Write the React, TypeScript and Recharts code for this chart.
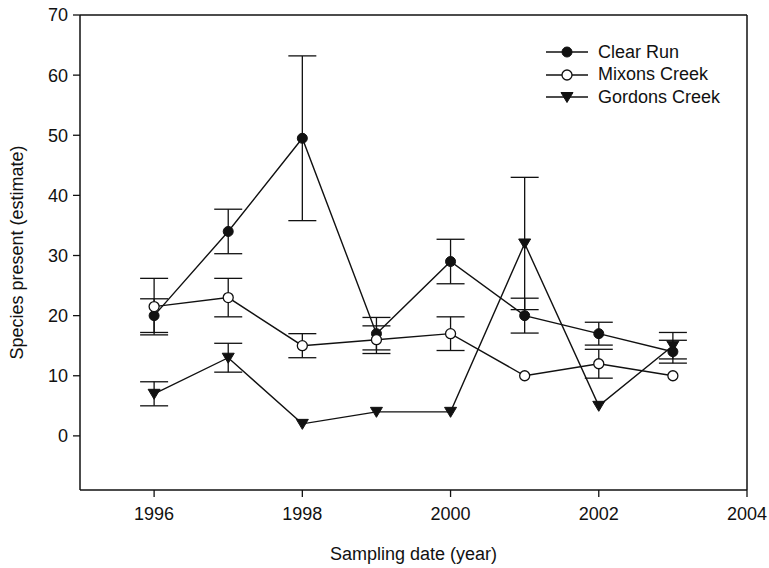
import React from 'react';
import {
    ComposedChart,
    Line,
    XAxis,
    YAxis,
    ErrorBar,
    Label,
} from 'recharts';

// values
const years = [1996, 1997, 1998, 1999, 2000, 2001, 2002, 2003];
const clearRun = [20, 34, 49.5, 17, 29, 20, 17, 14];
const clearRunErr = [2.8, 3.7, 13.7, 2.7, 3.7, 2.9, 1.9, 1.9];
const mixonsCreek = [21.5, 23, 15, 16, 17, 10, 12, 10];
const mixonsCreekErr = [4.7, 3.2, 2, 2.3, 2.8, null, 2.4, null];
const gordonsCreek = [7, 13, 2, 4, 4, 32, 5, 15];
const gordonsCreekErr = [2, 2.4, null, null, null, 11, null, 2.2];

const xTicks = [1996, 1998, 2000, 2002, 2004];
const yTicks = [0, 10, 20, 30, 40, 50, 60, 70];

const data = years.map((year, i) => ({
    year,
    clear: clearRun[i],
    clearErr: clearRunErr[i],
    mixons: mixonsCreek[i],
    mixonsErr: mixonsCreekErr[i],
    gordons: gordonsCreek[i],
    gordonsErr: gordonsCreekErr[i],
}));

const FONT = '"Liberation Sans", Arial, sans-serif';
const INK = '#111';

const triangle = (cx: number, cy: number) =>
    `${cx - 6},${cy - 4.5} ${cx + 6},${cy - 4.5} ${cx},${cy + 5.5}`;

const TriangleDot = (props: any) => {
    const { cx, cy, index } = props;
    if (cx == null || cy == null) return null;
    return <polygon key={`tri-${index}`} points={triangle(cx, cy)} fill={INK} stroke={INK} strokeWidth={1} />;
};

const legendItems = [
    { name: 'Clear Run', marker: 'filled' },
    { name: 'Mixons Creek', marker: 'open' },
    { name: 'Gordons Creek', marker: 'triangle' },
];

// legend box drawn over the chart, top right of the plot
const LegendBox = () => (
    <div style={{ position: 'absolute', top: 41, left: 544, fontFamily: FONT, fontSize: 18, color: INK }}>
        {legendItems.map((item) => (
            <div key={item.name} style={{ display: 'flex', alignItems: 'center', height: 22.5 }}>
                <svg width={54} height={22} style={{ display: 'block' }}>
                    <line x1={2} y1={11} x2={44} y2={11} stroke={INK} strokeWidth={1.4} />
                    {item.marker === 'filled' && <circle cx={23} cy={11} r={5} fill={INK} stroke={INK} />}
                    {item.marker === 'open' && <circle cx={23} cy={11} r={5} fill="#fff" stroke={INK} strokeWidth={1.3} />}
                    {item.marker === 'triangle' && <polygon points={triangle(23, 11)} fill={INK} stroke={INK} />}
                </svg>
                <span>{item.name}</span>
            </div>
        ))}
    </div>
);

const YLabel = (props: any) => {
    const { viewBox } = props;
    const cx = 17;
    const cy = viewBox.y + viewBox.height / 2;
    return (
        <text x={cx} y={cy} transform={`rotate(-90 ${cx} ${cy})`} textAnchor="middle" dominantBaseline="central"
            fontSize={18} fontFamily={FONT} fill={INK}>
            Species present (estimate)
        </text>
    );
};

export default function App() {
    return (
        <div style={{ position: 'absolute', left: 0, top: 0, width: 769, height: 568, background: '#fff' }}>
            <ComposedChart width={769} height={568} data={data} margin={{ top: 14, right: 21, left: 0, bottom: 0 }}>
                <XAxis dataKey="year" type="number" domain={[1995, 2004]} ticks={xTicks} height={78}
                    tick={{ fontSize: 18, fontFamily: FONT, fill: INK }} tickSize={7} tickMargin={10}
                    axisLine={{ stroke: INK, strokeWidth: 1.5 }} tickLine={{ stroke: INK, strokeWidth: 1.3 }}>
                    <Label value="Sampling date (year)" position="insideBottom" offset={8}
                        style={{ fontSize: 18, fontFamily: FONT, fill: INK }} />
                </XAxis>
                <XAxis xAxisId="top" dataKey="year" type="number" domain={[1995, 2004]} orientation="top" height={1}
                    tick={false} tickLine={false} axisLine={{ stroke: INK, strokeWidth: 1.5 }} />
                <YAxis type="number" domain={[-9, 70]} ticks={yTicks} width={80} allowDataOverflow
                    tick={{ fontSize: 18, fontFamily: FONT, fill: INK }} tickSize={7} tickMargin={5}
                    axisLine={{ stroke: INK, strokeWidth: 1.5 }} tickLine={{ stroke: INK, strokeWidth: 1.3 }}>
                    <Label content={<YLabel />} />
                </YAxis>
                <YAxis yAxisId="right" type="number" domain={[-9, 70]} orientation="right" width={1}
                    tick={false} tickLine={false} axisLine={{ stroke: INK, strokeWidth: 1.5 }} />
                <Line dataKey="gordons" name="Gordons Creek" stroke={INK} strokeWidth={1.4} dot={TriangleDot}
                    activeDot={false} isAnimationActive={false}>
                    <ErrorBar dataKey="gordonsErr" width={14} stroke={INK} strokeWidth={1.3} direction="y" />
                </Line>
                <Line dataKey="clear" name="Clear Run" stroke={INK} strokeWidth={1.4}
                    dot={{ r: 5, fill: INK, stroke: INK, strokeWidth: 1 }} activeDot={false} isAnimationActive={false}>
                    <ErrorBar dataKey="clearErr" width={14} stroke={INK} strokeWidth={1.3} direction="y" />
                </Line>
                <Line dataKey="mixons" name="Mixons Creek" stroke={INK} strokeWidth={1.4}
                    dot={{ r: 5, fill: '#fff', stroke: INK, strokeWidth: 1.3 }} activeDot={false} isAnimationActive={false}>
                    <ErrorBar dataKey="mixonsErr" width={14} stroke={INK} strokeWidth={1.3} direction="y" />
                </Line>
            </ComposedChart>
            <LegendBox />
        </div>
    );
}
